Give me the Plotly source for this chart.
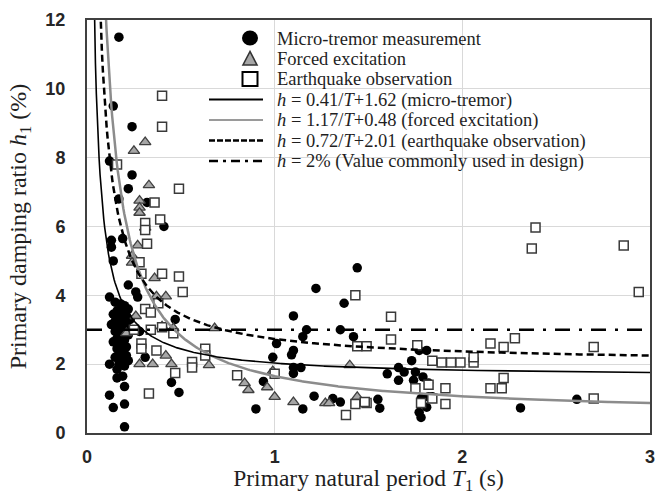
import numpy as np
import plotly.graph_objects as go

# ---------------- data ----------------
micro_T = [0.17, 0.14, 0.24, 0.12, 0.24, 0.22, 0.17, 0.32, 0.41, 0.13, 0.19, 0.13, 0.14, 0.22, 0.26, 0.27, 0.12,
           0.15, 0.18, 0.20, 0.22, 0.16, 0.19, 0.14, 0.21, 0.17, 0.23, 0.15, 0.19, 0.13, 0.21, 0.17, 0.24, 0.15,
           0.19, 0.22, 0.16, 0.20, 0.14, 0.18, 0.21, 0.16, 0.19, 0.17, 0.21, 0.15, 0.19, 0.22, 0.12, 0.17, 0.20,
           0.16, 0.19, 0.16, 0.20, 0.12, 0.14, 0.20, 0.20, 0.28, 0.31, 0.47, 0.45, 0.49,
           0.90, 0.94, 0.99, 1.01, 1.10, 1.15, 1.17, 1.10, 1.09, 1.10, 1.14, 1.10, 1.15, 1.21, 1.22, 1.31, 1.35,
           1.37, 1.35, 1.42, 1.44, 1.55, 1.56, 1.60, 1.66, 1.73, 1.66, 1.74, 1.69, 1.75, 1.79, 1.82, 1.77, 1.81,
           1.78, 1.82, 1.84, 1.77, 1.78, 1.81, 2.31, 2.61]
micro_h = [11.5, 9.5, 8.9, 7.9, 7.5, 7.1, 6.8, 6.7, 6.0, 5.6, 5.65, 5.4, 5.0, 4.3, 4.1, 3.95, 3.95,
           3.8, 3.75, 3.7, 3.6, 3.55, 3.5, 3.45, 3.4, 3.35, 3.3, 3.25, 3.2, 3.15, 3.1, 3.05, 3.0, 2.95,
           2.9, 2.85, 2.75, 2.7, 2.65, 2.6, 2.5, 2.45, 2.4, 2.3, 2.25, 2.2, 2.15, 2.1, 2.0, 2.0, 1.95,
           1.85, 1.65, 1.6, 1.35, 1.1, 0.74, 0.84, 0.18, 2.95, 2.2, 3.3, 1.47, 1.18,
           0.7, 1.5, 2.2, 2.6, 3.4, 2.8, 3.0, 2.4, 2.27, 1.9, 1.9, 1.73, 0.7, 1.07, 4.2, 1.0, 0.9,
           3.77, 3.0, 2.8, 4.8, 0.98, 0.72, 1.72, 1.9, 2.1, 1.53, 1.53, 1.77, 1.77, 1.63, 1.45, 2.4, 2.4,
           1.0, 1.05, 1.05, 0.6, 0.45, 0.75, 0.73, 0.98]

forced_T = [0.31, 0.25, 0.33, 0.28, 0.28, 0.28, 0.31, 0.27, 0.24, 0.24, 0.36, 0.37, 0.42, 0.26, 0.40, 0.46,
            0.68, 0.21, 0.28, 0.35, 0.42, 0.45, 0.65, 0.84, 0.86, 0.96, 0.99, 1.00, 1.10, 1.27, 1.29, 1.40, 1.44]
forced_h = [8.45, 8.2, 7.2, 6.75, 6.55, 6.4, 5.97, 5.45, 5.15, 4.95, 4.5, 3.97, 3.97, 3.4, 3.1, 3.05,
            3.05, 2.9, 2.0, 2.0, 2.25, 2.0, 1.97, 1.45, 1.25, 1.33, 1.8, 1.05, 0.9, 0.87, 0.87, 1.97, 1.05]

quake_T = [0.40, 0.40, 0.16, 0.49, 0.36, 0.39, 0.31, 0.31, 0.32, 0.28, 0.29, 0.40, 0.49, 0.51, 0.38, 0.31,
           0.34, 0.25, 0.34, 0.40, 0.46, 0.29, 0.29, 0.37, 0.63, 0.63, 0.56, 0.56, 0.47, 0.33, 0.80, 1.00,
           1.43, 1.62, 1.62, 1.44, 1.49, 1.43, 1.49, 1.38, 1.48, 1.76, 1.84, 1.89, 1.94, 1.99, 2.06, 2.06,
           2.15, 2.22, 2.28, 1.75, 1.82, 1.91, 2.15, 2.21, 2.22, 1.78, 1.84, 1.91,
           2.39, 2.37, 2.86, 2.94, 2.70, 2.70]
quake_h = [9.8, 8.9, 7.8, 7.1, 6.7, 6.2, 6.1, 5.9, 5.5, 4.96, 4.63, 4.63, 4.55, 4.1, 3.77, 3.6,
           3.5, 3.0, 3.0, 3.07, 2.9, 2.6, 2.45, 2.4, 2.45, 2.25, 2.06, 1.9, 1.74, 1.15, 1.68, 1.72,
           4.0, 3.38, 2.72, 2.52, 2.52, 0.84, 0.87, 0.52, 0.9, 2.55, 2.1, 2.05, 2.05, 2.05, 2.05, 2.2,
           2.6, 2.5, 2.75, 1.3, 1.4, 1.3, 1.3, 1.3, 1.6, 0.87, 1.0, 0.84,
           5.97, 5.36, 5.45, 4.1, 2.5, 1.0]

# fitted curves h = a/T + b, coefficients as printed in the legend
fit_a = {"micro": 0.41, "forced": 1.17, "quake": 0.72}
fit_b = {"micro": 1.62, "forced": 0.48, "quake": 2.01}
design_h = 3.0          # horizontal design line as drawn

x_ticks = [0, 1, 2, 3]
y_ticks = [0, 2, 4, 6, 8, 10, 12]

legend_labels = [
    "Micro-tremor measurement",
    "Forced excitation",
    "Earthquake observation",
    "<i>h</i> = 0.41/<i>T</i>+1.62 (micro-tremor)",
    "<i>h</i> = 1.17/<i>T</i>+0.48 (forced excitation)",
    "<i>h</i> = 0.72/<i>T</i>+2.01 (earthquake observation)",
    "<i>h</i> = 2% (Value commonly used in design)",
]

# ---------------- figure ----------------
W, H = 661, 495
ML, MR, MT, MB = 87, 11, 20, 62
PW, PH = W - ML - MR, H - MT - MB


def px(x):
    return (x - ML) / PW


def py(y):
    return (H - MB - y) / PH


fig = go.Figure()

Tcurve = np.linspace(0.03, x_ticks[-1], 600)

fig.add_trace(go.Scatter(x=micro_T, y=micro_h, mode="markers", showlegend=False,
                         marker=dict(symbol="circle", size=9.5, color="black", line=dict(width=0))))
fig.add_trace(go.Scatter(x=forced_T, y=forced_h, mode="markers", showlegend=False,
                         marker=dict(symbol="triangle-up", size=10, color="#a6a6a6",
                                     line=dict(width=1.3, color="#404040"))))
fig.add_trace(go.Scatter(x=quake_T, y=quake_h, mode="markers", showlegend=False,
                         marker=dict(symbol="square", size=9, color="white",
                                     line=dict(width=1.5, color="#3a3a3a"))))

fig.add_trace(go.Scatter(x=Tcurve, y=fit_a["forced"] / Tcurve + fit_b["forced"], mode="lines",
                         showlegend=False, line=dict(color="#8c8c8c", width=2.5)))
fig.add_trace(go.Scatter(x=Tcurve, y=fit_a["micro"] / Tcurve + fit_b["micro"], mode="lines",
                         showlegend=False, line=dict(color="black", width=1.6)))
fig.add_trace(go.Scatter(x=Tcurve, y=fit_a["quake"] / Tcurve + fit_b["quake"], mode="lines",
                         showlegend=False, line=dict(color="black", width=2.5, dash="7px,4px")))
fig.add_trace(go.Scatter(x=[x_ticks[0], x_ticks[-1]], y=[design_h, design_h], mode="lines",
                         showlegend=False, line=dict(color="black", width=2.5, dash="15px,9px,3px,9px")))

# ---------------- hand-made legend ----------------
shapes = []
shapes.append(dict(type="rect", xref="paper", yref="paper", layer="between",
                   x0=px(208), x1=px(648), y0=py(182), y1=py(27),
                   fillcolor="white", line=dict(width=0)))
sym_x = 250
rows = [38, 58.5, 79, 99.5, 120, 140.5, 161]
# circle
shapes.append(dict(type="circle", xref="paper", yref="paper", layer="above",
                   x0=px(sym_x - 8), x1=px(sym_x + 8), y0=py(rows[0] + 7.5), y1=py(rows[0] - 7.5),
                   fillcolor="black", line=dict(width=0)))
# triangle
tri = "M {},{} L {},{} L {},{} Z".format(px(sym_x), py(rows[1] - 7), px(sym_x - 7), py(rows[1] + 6.5),
                                          px(sym_x + 7), py(rows[1] + 6.5))
shapes.append(dict(type="path", xref="paper", yref="paper", layer="above", path=tri,
                   fillcolor="#a6a6a6", line=dict(width=1.6, color="#333333")))
# square
shapes.append(dict(type="rect", xref="paper", yref="paper", layer="above",
                   x0=px(sym_x - 7.5), x1=px(sym_x + 7.5), y0=py(rows[2] + 7), y1=py(rows[2] - 7),
                   fillcolor="white", line=dict(width=2, color="black")))
line_styles = [dict(color="black", width=2.2),
               dict(color="#9a9a9a", width=2.2),
               dict(color="black", width=2.5, dash="6px,2px"),
               dict(color="black", width=2.5, dash="9px,5px,3px,5px")]
for r, st in zip(rows[3:], line_styles):
    shapes.append(dict(type="line", xref="paper", yref="paper", layer="above",
                       x0=px(209), x1=px(263), y0=py(r), y1=py(r), line=st))

annotations = []
for r, lab in zip(rows, legend_labels):
    annotations.append(dict(text=lab, xref="paper", yref="paper", x=px(276), y=py(r + 0.5),
                            xanchor="left", yanchor="middle", showarrow=False, borderpad=0,
                            font=dict(family="Liberation Serif", size=18.5, color="#1f1f1f")))

fig.update_layout(
    width=W, height=H,
    margin=dict(l=ML, r=MR, t=MT, b=MB, pad=0),
    paper_bgcolor="white", plot_bgcolor="white",
    showlegend=False,
    shapes=shapes,
    annotations=annotations,
)

fig.update_xaxes(range=[0, 3], tickvals=x_ticks, ticktext=[str(v) for v in x_ticks],
                 showgrid=True, gridcolor="#d9d9d9", gridwidth=1, zeroline=False,
                 showline=True, mirror=True, linecolor="#404040", linewidth=2,
                 ticks="", ticklabelstandoff=6, automargin=False,
                 tickfont=dict(family="Liberation Sans", size=18, color="#262626", weight="bold"),
                 title=dict(text="Primary natural period <i>T</i><sub>1</sub> (s)", standoff=6,
                            font=dict(family="Liberation Serif", size=23.5, color="#1f1f1f")))
fig.update_yaxes(range=[0, 12], tickvals=y_ticks, ticktext=[str(v) for v in y_ticks],
                 showgrid=True, gridcolor="#d9d9d9", gridwidth=1, zeroline=False,
                 showline=True, mirror=True, linecolor="#404040", linewidth=2,
                 ticks="", ticklabelstandoff=16, automargin=False,
                 tickfont=dict(family="Liberation Sans", size=18, color="#262626", weight="bold"),
                 title=dict(text="Primary damping ratio <i>h</i><sub>1</sub> (%)", standoff=12,
                            font=dict(family="Liberation Serif", size=24, color="#1f1f1f")))

fig.write_html("out.html")
